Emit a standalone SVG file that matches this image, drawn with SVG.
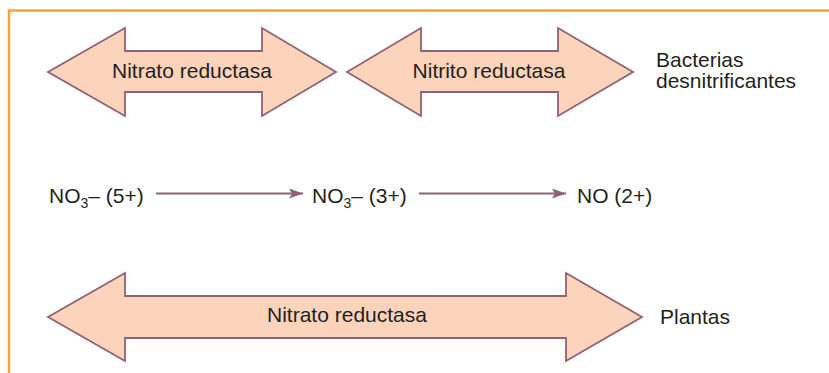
<svg xmlns="http://www.w3.org/2000/svg" width="829" height="373" viewBox="0 0 829 373">
<defs>
<style>
.arrow{fill:#FCD4BB;stroke:#8E6272;stroke-width:1.8;stroke-linejoin:miter}
.t{font-family:"Liberation Sans",Arial,sans-serif;font-size:21px;fill:#231F20}
.c{text-anchor:middle}
.conn{stroke:#8E6272;stroke-width:2;fill:none}
</style>
<marker id="ah" markerUnits="userSpaceOnUse" markerWidth="16" markerHeight="12" refX="14" refY="5" orient="auto">
<path d="M0,0 L14,5 L0,10 L3,5 Z" fill="#8E6272"/>
</marker>
</defs>
<rect width="829" height="373" fill="#FFFFFF"/>
<path d="M9,373 V10.5 H829" fill="none" stroke="#F7A23B" stroke-width="2.5"/>
<g id="bact-nitrato">
<polygon class="arrow" points="48,72 125,28 125,51 262,51 262,28 336,72 262,116 262,92 125,92 125,116"/>
<text class="t c" x="192" y="78">Nitrato reductasa</text>
</g>
<g id="bact-nitrito">
<polygon class="arrow" points="347,72 421,28 421,51 558,51 558,28 633,72 558,116 558,92 421,92 421,116"/>
<text class="t c" x="489" y="78">Nitrito reductasa</text>
</g>
<g id="label-bacterias">
<text class="t" x="656" y="67">Bacterias</text>
<text class="t" x="656" y="88">desnitrificantes</text>
</g>
<g id="no3-5">
<text class="t" x="49" y="203">NO<tspan font-size="14" dy="5">3</tspan><tspan dy="-5">– (5+)</tspan></text>
</g>
<g id="no3-3">
<text class="t" x="312" y="203">NO<tspan font-size="14" dy="5">3</tspan><tspan dy="-5">– (3+)</tspan></text>
</g>
<g id="no-2">
<text class="t" x="577" y="203">NO (2+)</text>
</g>
<g id="plantas-nitrato">
<polygon class="arrow" points="48,317 125,273 125,296 566,296 566,273 642,317 566,361 566,338 125,338 125,361"/>
<text class="t c" x="347" y="322">Nitrato reductasa</text>
</g>
<g id="label-plantas">
<text class="t" x="660" y="324">Plantas</text>
</g>
<g id="connectors">
<line class="conn" x1="156" y1="193.5" x2="303" y2="193.5" marker-end="url(#ah)"/>
<line class="conn" x1="419" y1="193.5" x2="566" y2="193.5" marker-end="url(#ah)"/>
</g>
</svg>
